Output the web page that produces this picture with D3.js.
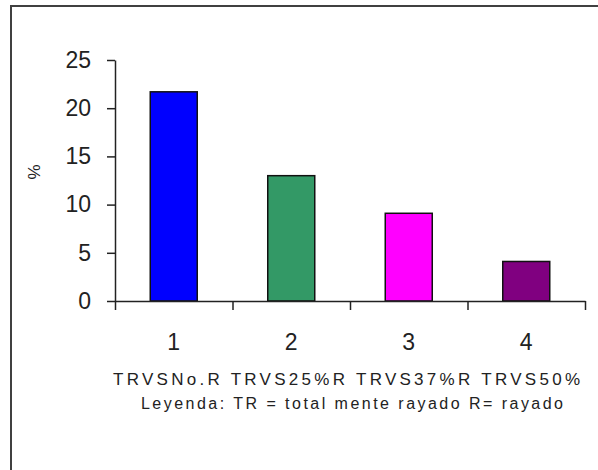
<!DOCTYPE html>
<html lang="es">
<head>
    <meta charset="UTF-8">
    <title>TRVS</title>
    <script src="https://d3js.org/d3.v7.min.js"></script>
    <style>
        body {
            margin: 0;
            background: #fff;
            font-family: "Liberation Sans", Arial, sans-serif;
        }
        svg text {
            fill: #222;
        }
    </style>
</head>
<body>
    <svg width="598" height="470"></svg>

    <script>
        // data
        const categories = ["1", "2", "3", "4"];
        const values = [21.7, 13, 9.1, 4.1];
        const barColors = ["#0000ff", "#339966", "#ff00ff", "#800080"];
        const yTicks = [0, 5, 10, 15, 20, 25];
        const yTitle = "%";
        const xTitleLines = [
            "TRVSNo.R TRVS25%R TRVS37%R  TRVS50%",
            "Leyenda: TR = total mente rayado R= rayado"
        ];

        const svg = d3.select("svg");

        // outer frame (right and bottom fall outside the window)
        svg.append("rect")
            .attr("x", 11).attr("y", 6)
            .attr("width", 640).attr("height", 520)
            .attr("fill", "none")
            .attr("stroke", "#404040")
            .attr("stroke-width", 2);

        const plot = {left: 115, right: 585, top: 60, bottom: 301};

        const x = d3.scaleBand()
            .domain(categories)
            .range([plot.left, plot.right])
            .paddingInner(0.6)
            .paddingOuter(0.3);

        const y = d3.scaleLinear()
            .domain([0, 25])
            .range([plot.bottom, plot.top]);

        // bars
        svg.append("g")
            .selectAll("rect")
            .data(values)
            .enter().append("rect")
            .attr("x", (d, i) => x(categories[i]))
            .attr("y", d => y(d))
            .attr("width", x.bandwidth())
            .attr("height", d => y(0) - y(d))
            .attr("fill", (d, i) => barColors[i])
            .attr("stroke", "#111")
            .attr("stroke-width", 1.5);

        // y axis
        const yAxis = svg.append("g")
            .attr("transform", `translate(${plot.left},0)`)
            .call(d3.axisLeft(y).tickValues(yTicks).tickSize(8).tickSizeOuter(0).tickPadding(16));
        yAxis.selectAll("text")
            .style("font-size", "23px")
            .style("font-family", "'Liberation Sans', Arial, sans-serif")
            .attr("fill", "#222");
        yAxis.selectAll("line, path").attr("stroke", "#222").attr("stroke-width", 1.5);

        // x axis: ticks sit on the band boundaries
        const xEdge = d3.scaleLinear().domain([0, categories.length]).range([plot.left, plot.right]);
        const xAxis = svg.append("g")
            .attr("transform", `translate(0,${plot.bottom})`)
            .call(d3.axisBottom(xEdge).ticks(categories.length).tickFormat("").tickSize(9).tickSizeOuter(0));
        xAxis.selectAll("line, path").attr("stroke", "#222").attr("stroke-width", 1.5);

        // category labels
        svg.append("g")
            .selectAll("text")
            .data(categories)
            .enter().append("text")
            .attr("x", d => x(d) + x.bandwidth() / 2)
            .attr("y", 350)
            .attr("text-anchor", "middle")
            .style("font-size", "23px")
            .text(d => d);

        // axis titles
        svg.append("text")
            .attr("transform", "translate(40,172) rotate(-90)")
            .attr("text-anchor", "middle")
            .style("font-size", "17px")
            .text(yTitle);

        const titleSpans = [[113, 467], [141, 422]];
        const titleSizes = [17, 16];
        svg.append("g")
            .selectAll("text")
            .data(xTitleLines)
            .enter().append("text")
            .attr("x", (d, i) => titleSpans[i][0])
            .attr("y", (d, i) => 385 + i * 24)
            .attr("textLength", (d, i) => titleSpans[i][1])
            .attr("lengthAdjust", "spacing")
            .style("font-size", (d, i) => titleSizes[i] + "px")
            .text(d => d);
    </script>
</body>
</html>
